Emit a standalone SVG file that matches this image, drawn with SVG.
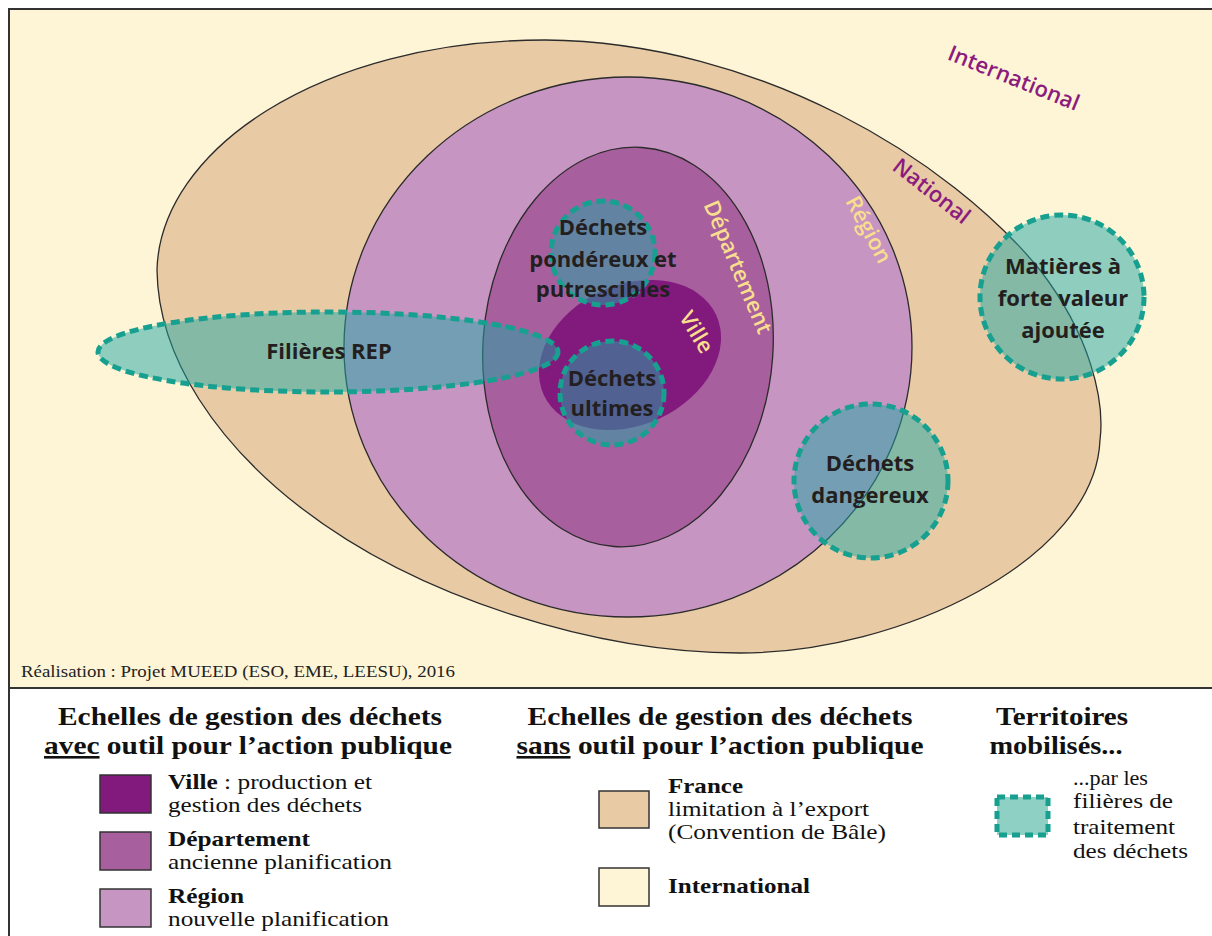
<svg xmlns="http://www.w3.org/2000/svg" width="1212" height="936" viewBox="0 0 1212 936">
<style>
.area{stroke:#2b2b2b;stroke-width:1.3}
.terr{fill:#1FA8A6;fill-opacity:0.5;stroke:#17A08F;stroke-width:5;stroke-dasharray:9 5}
.lbl{font-family:"Open Sans","Noto Sans",sans-serif;font-weight:700;font-size:22px;fill:#231F20;text-anchor:middle}
.scale{font-family:"Open Sans","Noto Sans",sans-serif;font-weight:600;font-size:22px;text-anchor:middle}
.pur{fill:#8B1C7E}
.yel{fill:#F8DE8E}
.lh{font-family:"Liberation Serif","Times New Roman",serif;font-weight:700;font-size:26px;fill:#111;text-anchor:middle}
.lt{font-family:"Liberation Serif","Times New Roman",serif;font-size:21px;fill:#111}
.bold{font-weight:700}
.box{stroke:#333;stroke-width:1.5}
</style>
<rect x="0" y="0" width="1212" height="936" fill="#ffffff"/>
<rect x="9" y="9" width="1212" height="679" fill="#FEF4D6" stroke="#333" stroke-width="2"/>
<line x1="9" y1="688" x2="9" y2="936" stroke="#333" stroke-width="2"/>

<g id="national">
<path class="area" fill="#E8CBA4" d="M157,270 C160,150 320,40 545,40 C760,42 950,160 1040,270 C1090,335 1105,400 1100,440 C1095,560 900,653 740,653 C600,653 420,600 300,507 C220,445 158,360 157,270 Z"/>
</g>
<g id="region">
<ellipse class="area" fill="#C795C1" cx="628" cy="347" rx="284" ry="270"/>
</g>
<g id="departement">
<ellipse class="area" fill="#A75F9E" cx="628" cy="347" rx="145" ry="200" transform="rotate(4 628 347)"/>
</g>
<g id="ville">
<ellipse fill="#821A7D" cx="630" cy="355" rx="95" ry="70" transform="rotate(-25 630 355)"/>
</g>

<g id="scale-labels">
<text class="scale pur" transform="translate(1011,85) rotate(22)">International</text>
<text class="scale pur" transform="translate(927,197) rotate(38)">National</text>
<text class="scale yel" transform="translate(862,233) rotate(62)">Région</text>
<text class="scale yel" transform="translate(731,270) rotate(67)">Département</text>
<text class="scale yel" transform="translate(690,336) rotate(59)">Ville</text>
</g>

<g id="filieres-rep">
<ellipse class="terr" cx="328" cy="352" rx="230" ry="40"/>
<text class="lbl" x="329" y="359">Filières REP</text>
</g>
<g id="dechets-ponderaux">
<circle class="terr" cx="603" cy="253" r="52"/>
<text class="lbl" x="603" y="235">Déchets</text>
<text class="lbl" x="603" y="267">pondéreux et</text>
<text class="lbl" x="603" y="297">putrescibles</text>
</g>
<g id="dechets-ultimes">
<circle class="terr" cx="612" cy="393" r="52"/>
<text class="lbl" x="612" y="386">Déchets</text>
<text class="lbl" x="612" y="416">ultimes</text>
</g>
<g id="matieres">
<circle class="terr" cx="1062" cy="297" r="82"/>
<text class="lbl" x="1063" y="274">Matières à</text>
<text class="lbl" x="1063" y="306">forte valeur</text>
<text class="lbl" x="1063" y="338">ajoutée</text>
</g>
<g id="dechets-dangereux">
<circle class="terr" cx="871" cy="481" r="77"/>
<text class="lbl" x="870" y="471">Déchets</text>
<text class="lbl" x="870" y="503">dangereux</text>
</g>

<text x="21" y="677" font-family="Liberation Serif,Times New Roman,serif" font-size="17" fill="#222" textLength="434" lengthAdjust="spacingAndGlyphs">Réalisation : Projet MUEED (ESO, EME, LEESU), 2016</text>

<g id="legend-avec">
<text class="lh" x="250" y="725" textLength="384" lengthAdjust="spacingAndGlyphs">Echelles de gestion des déchets</text>
<text class="lh" x="248" y="754" textLength="408" lengthAdjust="spacingAndGlyphs"><tspan text-decoration="underline">avec</tspan> outil pour l’action publique</text>
<rect class="box" x="100" y="775" width="51" height="38" fill="#821A7D"/>
<text class="lt" x="168" y="789" textLength="204" lengthAdjust="spacingAndGlyphs"><tspan class="bold">Ville</tspan> : production et</text>
<text class="lt" x="168" y="812" textLength="194" lengthAdjust="spacingAndGlyphs">gestion des déchets</text>
<rect class="box" x="100" y="832" width="51" height="38" fill="#A75F9E"/>
<text class="lt bold" x="168" y="846" textLength="142" lengthAdjust="spacingAndGlyphs">Département</text>
<text class="lt" x="168" y="869" textLength="224" lengthAdjust="spacingAndGlyphs">ancienne planification</text>
<rect class="box" x="100" y="889" width="51" height="38" fill="#C795C1"/>
<text class="lt bold" x="168" y="903" textLength="76" lengthAdjust="spacingAndGlyphs">Région</text>
<text class="lt" x="168" y="926" textLength="221" lengthAdjust="spacingAndGlyphs">nouvelle planification</text>
</g>
<g id="legend-sans">
<text class="lh" x="720" y="725" textLength="385" lengthAdjust="spacingAndGlyphs">Echelles de gestion des déchets</text>
<text class="lh" x="720" y="754" textLength="407" lengthAdjust="spacingAndGlyphs"><tspan text-decoration="underline">sans</tspan> outil pour l’action publique</text>
<rect class="box" x="599" y="791" width="50" height="37" fill="#E8CBA4"/>
<text class="lt bold" x="668" y="793" textLength="75" lengthAdjust="spacingAndGlyphs">France</text>
<text class="lt" x="668" y="816" textLength="201" lengthAdjust="spacingAndGlyphs">limitation à l’export</text>
<text class="lt" x="668" y="839" textLength="218" lengthAdjust="spacingAndGlyphs">(Convention de Bâle)</text>
<rect class="box" x="599" y="868" width="50" height="38" fill="#FEF4D6"/>
<text class="lt bold" x="668" y="893" textLength="142" lengthAdjust="spacingAndGlyphs">International</text>
</g>
<g id="legend-territoires">
<text class="lh" x="1062" y="725" textLength="132" lengthAdjust="spacingAndGlyphs">Territoires</text>
<text class="lh" x="1056" y="754" textLength="133" lengthAdjust="spacingAndGlyphs">mobilisés...</text>
<rect x="997" y="797" width="51" height="38" fill="#8ED0C4" stroke="#17A08F" stroke-width="5" stroke-dasharray="8 5"/>
<text class="lt" x="1073" y="785" textLength="75" lengthAdjust="spacingAndGlyphs">...par les</text>
<text class="lt" x="1073" y="808" textLength="100" lengthAdjust="spacingAndGlyphs">filières de</text>
<text class="lt" x="1073" y="834" textLength="102" lengthAdjust="spacingAndGlyphs">traitement</text>
<text class="lt" x="1073" y="858" textLength="115" lengthAdjust="spacingAndGlyphs">des déchets</text>
</g>
</svg>
